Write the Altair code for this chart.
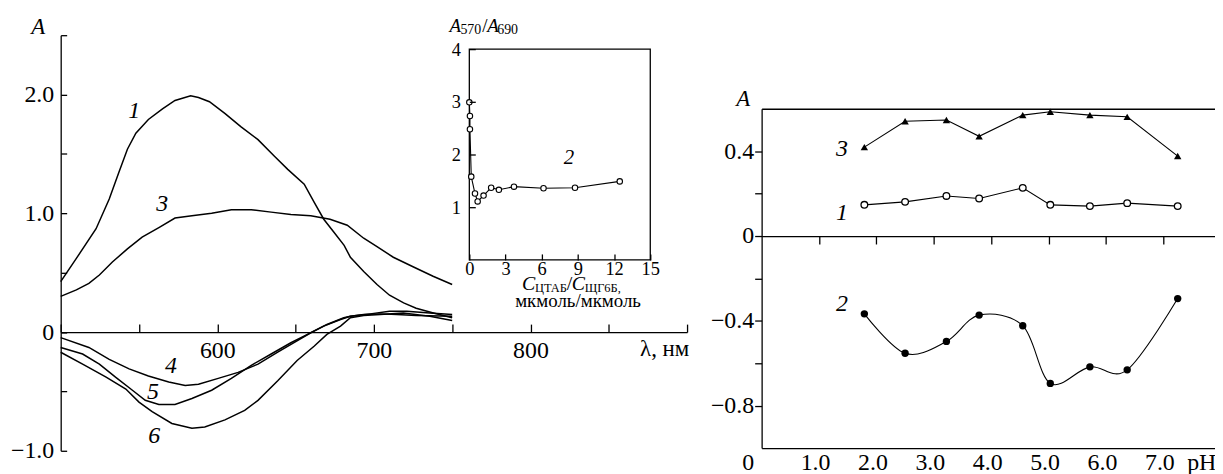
import altair as alt
import pandas as pd

SERIF = "Liberation Serif"
MINUS = "\u2212"

# ---------------- Left panel: spectra (curves 1, 3, 4, 5, 6) ----------------
wl_1 = [500, 510, 522.6, 531, 537, 542.6, 548, 556, 565, 573, 583, 588, 595, 605, 615, 626,
        636.5, 645, 655.5, 662, 668, 674.5, 681, 685, 693.5, 702, 710, 719, 727, 738, 750]
a_1 = [0.425, 0.62, 0.87, 1.12, 1.34, 1.54, 1.675, 1.79, 1.88, 1.95, 1.99, 1.975, 1.94, 1.84,
       1.73, 1.62, 1.48, 1.37, 1.245, 1.09, 0.95, 0.84, 0.73, 0.63, 0.51, 0.40, 0.31, 0.245,
       0.20, 0.16, 0.12]
wl_3 = [500, 510, 518, 524.7, 533, 542.6, 552, 562.7, 573, 583.8, 596.4, 609, 621.7, 634.4,
        647, 659.7, 672, 683, 693.5, 702, 712.4, 725, 737.8, 750]
a_3 = [0.30, 0.355, 0.41, 0.48, 0.59, 0.70, 0.80, 0.88, 0.96, 0.98, 1.00, 1.03, 1.03, 1.01,
       0.99, 0.98, 0.95, 0.90, 0.79, 0.72, 0.63, 0.55, 0.47, 0.40]
wl_4 = [500, 518, 531, 543.7, 556, 569, 579.5, 588, 600.6, 613.3, 626, 638.6, 649, 659.7, 670,
        680.8, 685, 693.5, 704, 714.6, 727, 750]
a_4 = [-0.047, -0.13, -0.23, -0.31, -0.37, -0.42, -0.45, -0.44, -0.39, -0.34, -0.27, -0.17,
       -0.09, -0.006, 0.064, 0.12, 0.133, 0.147, 0.153, 0.147, 0.139, 0.133]
wl_5 = [500, 514, 524.7, 535, 545.8, 554, 562.7, 573, 583.8, 596.4, 609, 621.7, 634.4, 647,
        657.6, 668, 678.7, 685, 697.7, 710, 721, 735.7, 750]
a_5 = [-0.13, -0.185, -0.27, -0.38, -0.49, -0.575, -0.61, -0.61, -0.56, -0.49, -0.39, -0.28,
       -0.185, -0.09, -0.02, 0.05, 0.105, 0.133, 0.153, 0.175, 0.175, 0.16, 0.147]
wl_6 = [500, 514, 529, 541.6, 550, 558.4, 571, 583.8, 592, 604.9, 617.5, 626, 638.6, 651,
        661.8, 670, 678.7, 685, 693.5, 704, 718.8, 735.7, 750]
a_6 = [-0.17, -0.27, -0.38, -0.48, -0.59, -0.67, -0.77, -0.81, -0.80, -0.74, -0.66, -0.575,
       -0.41, -0.24, -0.12, -0.02, 0.05, 0.12, 0.14, 0.147, 0.16, 0.133, 0.097]

curve_names = ["1", "3", "4", "5", "6"]
label_wl = [547, 564.8, 570.5, 559, 559.7]
label_a = [1.864, 1.077, -0.288, -0.506, -0.874]

# ---------------- Inset: A570/A690 vs C(CTAB)/C(dye) ----------------
ratio_c = [0, 0.05, 0.05, 0.16, 0.47, 0.69, 1.18, 1.81, 2.45, 3.7, 6.15, 8.76, 12.47]
ratio_a = [2.99, 2.73, 2.48, 1.58, 1.26, 1.11, 1.22, 1.37, 1.33, 1.39, 1.36, 1.37, 1.49]

# ---------------- Right panel: A vs pH ----------------
ph = [1.79, 2.50, 3.22, 3.79, 4.55, 5.03, 5.72, 6.37, 7.25]
a_ph_1 = [0.147, 0.161, 0.189, 0.177, 0.227, 0.147, 0.141, 0.155, 0.141]
a_ph_2 = [-0.367, -0.553, -0.497, -0.373, -0.423, -0.695, -0.617, -0.631, -0.295]
a_ph_3 = [0.419, 0.541, 0.547, 0.470, 0.570, 0.586, 0.570, 0.562, 0.377]
ph_label_names = ["3", "1", "2"]
ph_label_x = [1.40, 1.40, 1.40]
ph_label_y = [0.411, 0.106, -0.323]

# ---------------- data tables ----------------
rows = []
for name, wl, aa in [("1", wl_1, a_1), ("3", wl_3, a_3), ("4", wl_4, a_4),
                     ("5", wl_5, a_5), ("6", wl_6, a_6)]:
    for i, (w, a) in enumerate(zip(wl, aa)):
        rows.append({"curve": name, "wl": w, "A": a, "i": i})
main_df = pd.DataFrame(rows)
main_lab_df = pd.DataFrame({"t": curve_names, "wl": label_wl, "A": label_a})

inset_df = pd.DataFrame({"c": ratio_c, "r": ratio_a, "i": list(range(len(ratio_c)))})
inset_box_df = pd.DataFrame({"c0": [0], "c1": [15], "r0": [0], "r1": [4]})
inset_lab_df = pd.DataFrame({"t": ["2"], "c": [8.25], "r": [1.94]})
ins_it_df = pd.DataFrame({"t": ["C", "C", "A", "A"], "c": [4.37, 8.49, -1.65, 1.48],
                          "r": [-0.566, -0.566, 4.33, 4.33], "fs": [20, 20, 19, 19]})
ins_sub_df = pd.DataFrame({"t": ["ЦТАБ", "ЩГ6Б,", "570", "690"], "c": [5.44, 9.56, -0.74, 2.31],
                           "r": [-0.613, -0.613, 4.28, 4.28], "fs": [12.5, 12.5, 14, 14]})
ins_up_df = pd.DataFrame({"t": ["/", "/", "мкмоль/мкмоль"], "c": [8.08, 1.07, 3.8],
                          "r": [-0.566, 4.33, -0.89], "fs": [20, 19, 19]})

ph_df = pd.DataFrame({"pH": ph * 3,
                      "A": a_ph_1 + a_ph_2 + a_ph_3,
                      "s": ["1"] * 9 + ["2"] * 9 + ["3"] * 9})
ph_lab_df = pd.DataFrame({"t": ph_label_names, "pH": ph_label_x, "A": ph_label_y})

# ---------------- scales (pixel ranges inside one plot area) ----------------
W, H = 1161, 418


def sx_main():
    return alt.Scale(domain=[500, 900], range=[0, 630], nice=False, zero=False)


def sy_main():
    return alt.Scale(domain=[-1.0, 2.5], range=[418, 0], nice=False, zero=False)


def sx_ins():
    return alt.Scale(domain=[0, 15], range=[411, 593], nice=False, zero=False)


def sy_ins():
    return alt.Scale(domain=[0, 4], range=[226, 14], nice=False, zero=False)


def sx_ph():
    return alt.Scale(domain=[0, 7.9], range=[705, 1161], nice=False, zero=False)


def sy_ph():
    return alt.Scale(domain=[-1.0, 0.6], range=[415.3, 74], nice=False, zero=False)


# ---------------- left main ----------------
main_lines = alt.Chart(main_df).mark_line(color="black", strokeWidth=1.5).encode(
    x=alt.X("wl:Q", scale=sx_main(), axis=alt.Axis(
        orient="bottom", offset=-119.4, values=list(range(500, 901, 50)),
        tickSize=alt.ExprRef(expr="-8"), labelPadding=15, labelFontSize=24,
        labelExpr="(datum.value == 600 || datum.value == 700 || datum.value == 800) ? datum.label : ''",
        format="d", title="λ, нм", titleX=607, titleY=24, titleAlign="center",
        titleBaseline="alphabetic", titleFontSize=23, titleAngle=0, zindex=1)),
    y=alt.Y("A:Q", scale=sy_main(), axis=alt.Axis(
        orient="left", values=[-1.0, -0.5, 0, 0.5, 1.0, 1.5, 2.0, 2.5],
        tickSize=alt.ExprRef(expr="-6"), labelPadding=13, labelFontSize=24,
        labelExpr="datum.value == 0 ? '0' : (datum.value == 1 || datum.value == 2) ? format(datum.value, '.1f') : datum.value == -1 ? '" + MINUS + "1.0' : ''",
        title="A", titleFontStyle="italic", titleAngle=0, titleX=-23, titleY=-9,
        titleAlign="center", titleBaseline="middle", titleFontSize=23, zindex=1)),
    detail="curve:N",
    order="i:Q",
)

main_labels = alt.Chart(main_lab_df).mark_text(
    font=SERIF, fontSize=24, fontStyle="italic", color="black", align="center", baseline="middle"
).encode(
    x=alt.X("wl:Q", scale=sx_main(), axis=None),
    y=alt.Y("A:Q", scale=sy_main(), axis=None),
    text="t:N",
)

# ---------------- inset ----------------
inset_box = alt.Chart(inset_box_df).mark_rect(fill="white", stroke="black", strokeWidth=1.3).encode(
    x=alt.X("c0:Q", scale=sx_ins(), axis=alt.Axis(
        orient="bottom", offset=-192, values=[0, 3, 6, 9, 12, 15], domain=False,
        tickSize=alt.ExprRef(expr="-6"), labelPadding=6, labelFontSize=18.5, title=None, zindex=1)),
    x2="c1:Q",
    y=alt.Y("r0:Q", scale=sy_ins(), axis=alt.Axis(
        orient="left", offset=-411, values=[1, 2, 3, 4], domain=False,
        tickSize=alt.ExprRef(expr="-6"), labelPadding=15, labelFontSize=18.5, title=None, zindex=1)),
    y2="r1:Q",
)

inset_line = alt.Chart(inset_df).mark_line(color="black", strokeWidth=1.1).encode(
    x=alt.X("c:Q", scale=sx_ins(), axis=None),
    y=alt.Y("r:Q", scale=sy_ins(), axis=None),
    order="i:Q",
)
inset_pts = alt.Chart(inset_df).mark_point(
    shape="circle", filled=True, fill="white", stroke="black", strokeWidth=1.1, size=30, opacity=1
).encode(
    x=alt.X("c:Q", scale=sx_ins(), axis=None),
    y=alt.Y("r:Q", scale=sy_ins(), axis=None),
)
inset_label = alt.Chart(inset_lab_df).mark_text(
    font=SERIF, fontSize=21, fontStyle="italic", color="black", align="center", baseline="middle"
).encode(
    x=alt.X("c:Q", scale=sx_ins(), axis=None),
    y=alt.Y("r:Q", scale=sy_ins(), axis=None),
    text="t:N",
)
ins_it = alt.Chart(ins_it_df).mark_text(
    font=SERIF, fontStyle="italic", color="black", align="left", baseline="alphabetic"
).encode(
    x=alt.X("c:Q", scale=sx_ins(), axis=None),
    y=alt.Y("r:Q", scale=sy_ins(), axis=None),
    size=alt.Size("fs:Q", scale=None, legend=None),
    text="t:N",
)
ins_sub = alt.Chart(ins_sub_df).mark_text(
    font=SERIF, color="black", align="left", baseline="alphabetic"
).encode(
    x=alt.X("c:Q", scale=sx_ins(), axis=None),
    y=alt.Y("r:Q", scale=sy_ins(), axis=None),
    size=alt.Size("fs:Q", scale=None, legend=None),
    text="t:N",
)
ins_up = alt.Chart(ins_up_df).mark_text(
    font=SERIF, color="black", align="left", baseline="alphabetic"
).encode(
    x=alt.X("c:Q", scale=sx_ins(), axis=None),
    y=alt.Y("r:Q", scale=sy_ins(), axis=None),
    size=alt.Size("fs:Q", scale=None, legend=None),
    text="t:N",
)

# ---------------- right panel ----------------
ph_line_3 = alt.Chart(ph_df).transform_filter("datum.s == '3'").mark_line(
    color="black", strokeWidth=1.1
).encode(
    x=alt.X("pH:Q", scale=sx_ph(), axis=alt.Axis(
        orient="bottom", offset=-2.7, values=[0, 1, 2, 3, 4, 5, 6, 7, 7.73],
        ticks=False, tickSize=0, labelPadding=3, labelFontSize=24,
        labelExpr="datum.value == 0 ? '0' : datum.value > 7.5 ? 'pH' : format(datum.value, '.1f')",
        labelOffset={"condition": {"test": "datum.value == 0", "value": -14}, "value": -4},
        title=None, zindex=1)),
    y=alt.Y("A:Q", scale=sy_ph(), axis=alt.Axis(
        orient="left", offset=-705, values=[-0.8, -0.6, -0.4, -0.2, 0, 0.2, 0.4],
        tickSize=7, labelPadding=1, labelFontSize=24,
        labelExpr="datum.value == 0 ? '0' : abs(datum.value - 0.4) < 0.01 ? '0.4' : abs(datum.value + 0.4) < 0.01 ? '" + MINUS + "0.4' : abs(datum.value + 0.8) < 0.01 ? '" + MINUS + "0.8' : ''",
        title="A", titleFontStyle="italic", titleAngle=0, titleX=-19, titleY=64,
        titleAlign="center", titleBaseline="middle", titleFontSize=23, zindex=1)),
)
ph_pts_3 = alt.Chart(ph_df).transform_filter("datum.s == '3'").mark_point(
    shape="triangle-up", filled=True, color="black", size=55, opacity=1
).encode(
    x=alt.X("pH:Q", scale=sx_ph(), axis=alt.Axis(
        orient="bottom", offset=-216, values=[1, 2, 3, 4, 5, 6, 7],
        tickSize=8, labels=False, title=None, zindex=1)),
    y=alt.Y("A:Q", scale=sy_ph(), axis=None),
)
ph_line_1 = alt.Chart(ph_df).transform_filter("datum.s == '1'").mark_line(
    color="black", strokeWidth=1.1
).encode(
    x=alt.X("pH:Q", scale=sx_ph(), axis=alt.Axis(
        orient="top", offset=-74, ticks=False, labels=False, title=None, zindex=1)),
    y=alt.Y("A:Q", scale=sy_ph(), axis=None),
)
ph_pts_1 = alt.Chart(ph_df).transform_filter("datum.s == '1'").mark_point(
    shape="circle", filled=True, fill="white", stroke="black", strokeWidth=1.3, size=45, opacity=1
).encode(
    x=alt.X("pH:Q", scale=sx_ph(), axis=None),
    y=alt.Y("A:Q", scale=sy_ph(), axis=None),
)
ph_line_2 = alt.Chart(ph_df).transform_filter("datum.s == '2'").mark_line(
    color="black", strokeWidth=1.1, interpolate="cardinal"
).encode(
    x=alt.X("pH:Q", scale=sx_ph(), axis=None),
    y=alt.Y("A:Q", scale=sy_ph(), axis=None),
)
ph_pts_2 = alt.Chart(ph_df).transform_filter("datum.s == '2'").mark_point(
    shape="circle", filled=True, color="black", size=55, opacity=1
).encode(
    x=alt.X("pH:Q", scale=sx_ph(), axis=None),
    y=alt.Y("A:Q", scale=sy_ph(), axis=None),
)
ph_labels = alt.Chart(ph_lab_df).mark_text(
    font=SERIF, fontSize=24, fontStyle="italic", color="black", align="center", baseline="middle"
).encode(
    x=alt.X("pH:Q", scale=sx_ph(), axis=None),
    y=alt.Y("A:Q", scale=sy_ph(), axis=None),
    text="t:N",
)

chart = alt.layer(
    main_lines, main_labels,
    inset_box, inset_line, inset_pts, inset_label, ins_it, ins_sub, ins_up,
    ph_line_3, ph_pts_3, ph_line_1, ph_pts_1, ph_line_2, ph_pts_2, ph_labels,
).resolve_scale(
    x="independent", y="independent", size="independent"
).properties(
    width=W, height=H,
    autosize=alt.AutoSizeParams(type="none"),
    padding={"left": 53, "top": 26, "right": 0, "bottom": 22},
    background="white",
).configure_view(
    stroke=None
).configure_axis(
    grid=False, labelFont=SERIF, titleFont=SERIF, labelColor="black", titleColor="black",
    domainColor="black", tickColor="black", domainWidth=1.3, tickWidth=1.3,
    titleFontWeight="normal", labelFlush=False, labelOverlap=False
)

chart.save("out.html", embed_options={"renderer": "svg", "actions": False})
